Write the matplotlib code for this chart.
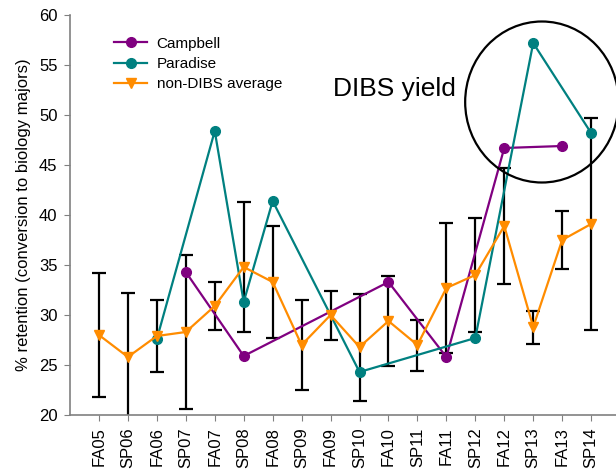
import numpy as np
import matplotlib
matplotlib.use("Agg")
import matplotlib.pyplot as plt
from matplotlib.patches import Ellipse

plt.rcParams['font.family'] = ['Liberation Sans', 'DejaVu Sans']

terms = ["FA05", "SP06", "FA06", "SP07", "FA07", "SP08", "FA08", "SP09", "FA09",
         "SP10", "FA10", "SP11", "FA11", "SP12", "FA12", "SP13", "FA13", "SP14"]

nan = np.nan
campbell = [nan, nan, nan, 34.3, nan, 25.9, nan, nan, nan,
            nan, 33.3, nan, 25.8, nan, 46.7, nan, 46.9, nan]
paradise = [nan, nan, 27.6, nan, 48.4, 31.3, 41.4, nan, nan,
            24.3, nan, nan, nan, 27.7, nan, 57.2, nan, 48.2]
nondibs = [28.0, 25.8, 27.9, 28.3, 30.9, 34.8, 33.3, 27.0, 30.0,
           26.8, 29.4, 27.0, 32.7, 34.0, 38.9, 28.8, 37.5, 39.1]
nondibs_err = [6.2, 6.4, 3.6, 7.7, 2.4, 6.5, 5.6, 4.5, 2.45,
               5.35, 4.5, 2.55, 6.5, 5.7, 5.8, 1.65, 2.9, 10.6]

fig = plt.figure(figsize=(6.16, 4.72), dpi=100)
ax = fig.add_axes([70 / 616, 57 / 472, 546 / 616, 400 / 472])

x = np.arange(len(terms))

# error bars underneath the lines
ax.errorbar(x, nondibs, yerr=nondibs_err, fmt='none', ecolor='black',
            elinewidth=1.6, capsize=5, capthick=1.6, zorder=1)


def plot_series(vals, color, marker, label, ms):
    v = np.array(vals, dtype=float)
    ok = ~np.isnan(v)
    ax.plot(x[ok], v[ok], color=color, marker=marker, markersize=ms,
            linewidth=1.6, label=label, zorder=3)


plot_series(campbell, '#800080', 'o', 'Campbell', 7)
plot_series(paradise, '#008080', 'o', 'Paradise', 7)
plot_series(nondibs, '#FF8C00', 'v', 'non-DIBS average', 7)

ax.set_xlim(-1.0, 17.86)
ax.set_ylim(20, 60)
ax.set_yticks(np.arange(20, 61, 5))
ax.set_xticks(x)
ax.set_xticklabels(terms, rotation=90, fontsize=12)
ax.tick_params(axis='y', labelsize=12, direction='out', length=4, pad=5, color='#808080')
ax.tick_params(axis='x', direction='out', length=4, pad=5, color='#808080')

for side in ['top', 'right']:
    ax.spines[side].set_visible(False)
for side in ['left', 'bottom']:
    ax.spines[side].set_color('#808080')
    ax.spines[side].set_linewidth(1.2)

ax.set_ylabel('% retention (conversion to biology majors)', fontsize=12, labelpad=6)

ax.legend(loc='upper left', bbox_to_anchor=(0.055, 0.98), frameon=False,
          fontsize=11, handlelength=2.2, handletextpad=0.6, labelspacing=0.4)

ax.text(8.09, 51.93, 'DIBS yield', fontsize=19, ha='left', va='baseline')
ax.add_patch(Ellipse((15.3, 51.3), 5.3, 16.1, fill=False, edgecolor='black',
                     linewidth=1.6, clip_on=False, zorder=4))

fig.savefig('out.png', dpi=100)
